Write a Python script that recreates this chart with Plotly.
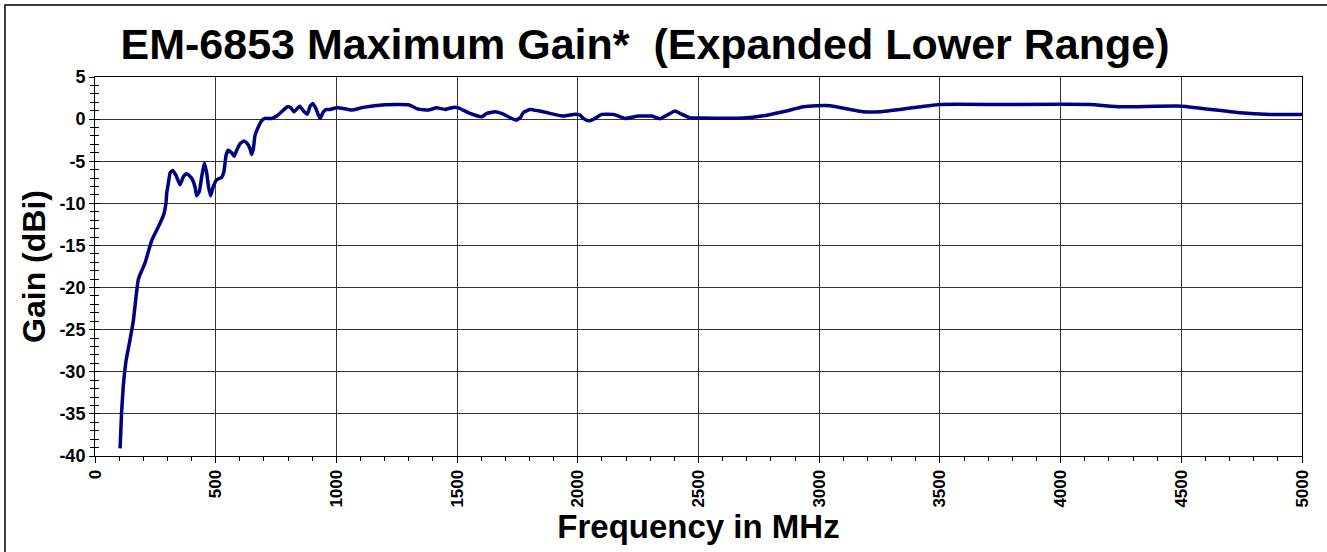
import plotly.graph_objects as go

freq_mhz = [104, 110, 117, 128, 145, 159, 170, 179, 186, 207, 235, 269, 286, 294, 297,
            304, 311, 322, 335, 352, 366, 380, 400, 414, 421, 432, 442, 453, 463, 470,
            479, 490, 504, 525, 534, 543, 552, 566, 576, 587, 601, 617, 631, 642, 649,
            656, 663, 677, 690, 704, 732, 752, 773, 797, 810, 824, 838, 849, 863, 880,
            891, 902, 915, 932, 946, 960, 973, 1001, 1029, 1063, 1111, 1201, 1298, 1339,
            1381, 1415, 1450, 1484, 1505, 1553, 1602, 1623, 1657, 1691, 1726, 1744, 1761,
            1774, 1802, 1836, 1885, 1940, 1988, 2009, 2023, 2044, 2064, 2099, 2147, 2196,
            2251, 2306, 2340, 2403, 2423, 2465, 2506, 2686, 2768, 2851, 2934, 2989, 3045,
            3183, 3252, 3500, 3749, 4122, 4246, 4502, 4743, 4868, 5000]
gain_dbi = [-39.1, -34.9, -31.8, -28.8, -26.2, -23.9, -21.1, -19.1, -18.5, -17.1, -14.4, -12.4, -11.2, -10.0, -8.8,
            -7.6, -6.4, -6.1, -6.65, -7.8, -6.85, -6.45, -7.0, -8.0, -9.1, -8.6, -6.85, -5.2, -6.45, -8.0,
            -9.1, -8.0, -7.2, -6.9, -6.25, -4.3, -3.7, -4.0, -4.4, -3.7, -2.9, -2.6, -2.9, -3.5, -4.2,
            -3.5, -1.9, -0.9, -0.2, 0.08, 0.08, 0.36, 0.87, 1.46, 1.39, 0.87, 1.27, 1.54, 0.99, 0.59,
            1.54, 1.86, 1.27, 0.08, 0.87, 1.15, 1.15, 1.34, 1.27, 1.07, 1.39, 1.70, 1.70, 1.19,
            1.07, 1.34, 1.15, 1.39, 1.34, 0.68, 0.28, 0.68, 0.87, 0.59, 0.08, -0.12, 0.15,
            0.75, 1.15, 0.99, 0.68, 0.36, 0.59, 0.48, 0.08, -0.2, -0.04, 0.56, 0.56, 0.08,
            0.36, 0.36, 0.04, 0.95, 0.68, 0.15, 0.12, 0.12, 0.39, 0.87, 1.46, 1.58, 1.58,
            0.87, 0.87, 1.74, 1.74, 1.74, 1.46, 1.54, 0.75, 0.56, 0.56]

x_tick_vals = [0, 500, 1000, 1500, 2000, 2500, 3000, 3500, 4000, 4500, 5000]
x_tick_text = ["0", "500", "1000", "1500", "2000", "2500", "3000", "3500", "4000", "4500", "5000"]
y_tick_vals = [5, 0, -5, -10, -15, -20, -25, -30, -35, -40]
y_tick_text = ["5", "0", "-5", "-10", "-15", "-20", "-25", "-30", "-35", "-40"]

x_range = [0, 5000]
y_range = [-40, 5]

W, H = 1327, 552
L, R, T, B = 95, 25, 77, 96

fig = go.Figure()
fig.add_trace(go.Scatter(x=freq_mhz, y=gain_dbi, mode="lines",
                         line=dict(color="#000080", width=3.5, shape="spline", smoothing=0.4),
                         hoverinfo="x+y", showlegend=False))
# invisible trace on overlay axis for the inner halves of the y ticks
fig.add_trace(go.Scatter(x=[x_range[0]], y=[y_range[0]], yaxis="y2", mode="markers",
                         marker=dict(opacity=0), showlegend=False, hoverinfo="skip"))

font_family = "Liberation Sans, Arial, sans-serif"

fig.update_layout(
    width=W, height=H,
    margin=dict(l=L, r=R, t=T, b=B),
    paper_bgcolor="white", plot_bgcolor="white",
    font=dict(family=font_family, color="black"),
    title=dict(text="<b>EM-6853 Maximum Gain*  (Expanded Lower Range)</b>",
               x=645 / W, xref="container", xanchor="center",
               y=1 - 44 / H, yref="container", yanchor="middle",
               font=dict(size=43, family=font_family, color="black")),
    xaxis=dict(range=x_range, tickmode="array", tickvals=x_tick_vals, ticktext=x_tick_text,
               showgrid=True, gridcolor="#333333", gridwidth=1,
               showline=True, linecolor="black", linewidth=1, mirror=True,
               ticks="outside", ticklen=6, tickcolor="black",
               minor=dict(dtick=100, tick0=0, ticks="outside", ticklen=4, tickcolor="black", showgrid=False),
               tickangle=-90, tickfont=dict(size=17, family=font_family, color="black", weight="bold"),
               zeroline=False,
               title=dict(text="<b>Frequency in MHz</b>", font=dict(size=33, family=font_family),
                          standoff=6)),
    yaxis=dict(range=y_range, tickmode="array", tickvals=y_tick_vals, ticktext=y_tick_text,
               showgrid=True, gridcolor="#333333", gridwidth=1,
               showline=True, linecolor="black", linewidth=1, mirror=True,
               ticks="outside", ticklen=5, tickcolor="black",
               minor=dict(dtick=1, tick0=0, ticks="outside", ticklen=4, tickcolor="black", showgrid=False),
               tickfont=dict(size=18, family=font_family, color="black", weight="bold"),
               zeroline=False,
               title=dict(text="<b>Gain (dBi)</b>", font=dict(size=32, family=font_family),
                          standoff=4)),
    yaxis2=dict(range=y_range, dtick=5, tick0=0, overlaying="y", side="left",
                showgrid=False, showline=False, zeroline=False, showticklabels=False,
                ticks="inside", ticklen=5, tickcolor="black",
                minor=dict(dtick=1, tick0=0, ticks="inside", ticklen=4, tickcolor="black", showgrid=False)),
    shapes=[dict(type="rect", xref="paper", yref="paper",
                 x0=-(L - 5) / (W - L - R), x1=1 + (R + 10) / (W - L - R),
                 y0=-(B + 10) / (H - T - B), y1=1 + (T - 5) / (H - T - B),
                 line=dict(color="black", width=1.5), layer="below")],
)

fig.write_html("out.html", config={"displayModeBar": False},
               post_script="document.body.style.margin='0';document.body.style.overflow='hidden';")
